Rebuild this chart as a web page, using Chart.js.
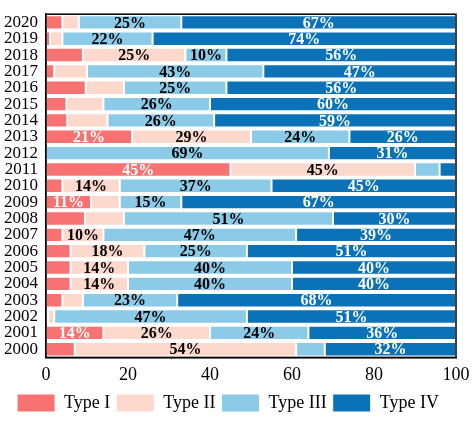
<!DOCTYPE html>
<html>
<head>
<meta charset="utf-8">
<script src="https://cdn.jsdelivr.net/npm/chart.js@4"></script>
<style>
  html, body { margin: 0; padding: 0; background: #fff; }
  #wrap { width: 474px; height: 424px; }
</style>
</head>
<body>
<div id="wrap"><canvas id="c"></canvas></div>
<script>
// ── Data (top row first) ──────────────────────────────────────────────────────
const years = ['2020','2019','2018','2017','2016','2015','2014','2013','2012','2011','2010',
               '2009','2008','2007','2006','2005','2004','2003','2002','2001','2000'];
const type1 = [4, 1, 9, 2, 9.7, 5, 5.2, 21, 0, 45, 4, 11, 9.5, 4, 6, 6, 6, 4, 0.5, 14, 7];
const type2 = [4, 3, 25, 8, 9.3, 9, 9.8, 29, 0, 45, 14, 7, 9.5, 10, 18, 14, 14, 5, 1.5, 26, 54];
const type3 = [25, 22, 10, 43, 25, 26, 26, 24, 69, 6, 37, 15, 51, 47, 25, 40, 40, 23, 47, 24, 7];
const type4 = [67, 74, 56, 47, 56, 60, 59, 26, 31, 4, 45, 67, 30, 39, 51, 40, 40, 68, 51, 36, 32];
const seriesNames = ['Type I', 'Type II', 'Type III', 'Type IV'];
const xTicks = [0, 20, 40, 60, 80, 100];

const COLORS = ['#f87272', '#fcd9cc', '#8ccbe8', '#0c72b8'];
const LABEL_COLORS = ['#ffffff', '#000000', '#000000', '#ffffff'];
const FONT = "'Liberation Serif', 'DejaVu Serif', serif";

// ── Segment labels + frame ────────────────────────────────────────────────────
const segLabels = {
  id: 'segLabels',
  afterDatasetsDraw(chart) {
    const ctx = chart.ctx;
    ctx.save();
    ctx.font = 'bold 16px ' + FONT;
    ctx.textAlign = 'center';
    ctx.textBaseline = 'middle';
    chart.data.datasets.forEach((ds, di) => {
      chart.getDatasetMeta(di).data.forEach((bar, i) => {
        const v = ds.data[i];
        if (v < 9.95) return;
        const { x, base, y } = bar.getProps(['x', 'base', 'y'], true);
        ctx.fillStyle = LABEL_COLORS[di];
        ctx.fillText(Math.round(v) + '%', (x + base) / 2, y + 1);
      });
    });
    const a = chart.chartArea;
    ctx.strokeStyle = '#000';
    ctx.lineWidth = 1.5;
    ctx.strokeRect(a.left, a.top, a.right - a.left, a.bottom - a.top);
    ctx.restore();
  }
};

new Chart(document.getElementById('c'), {
  type: 'bar',
  data: {
    labels: years,
    datasets: [type1, type2, type3, type4].map((d, i) => ({
      label: seriesNames[i],
      data: d,
      backgroundColor: COLORS[i],
      borderColor: '#ffffff',
      borderWidth: 1,
      borderSkipped: false,
      categoryPercentage: 1,
      barPercentage: 0.88
    }))
  },
  options: {
    indexAxis: 'y',
    responsive: true,
    maintainAspectRatio: false,
    animation: false,
    layout: { padding: { top: 4, right: 18, left: 0, bottom: 2 } },
    plugins: {
      legend: {
        position: 'bottom',
        labels: {
          color: '#000',
          font: { family: FONT, size: 18 },
          boxWidth: 38,
          boxHeight: 18,
          padding: 6
        }
      },
      tooltip: { enabled: false }
    },
    scales: {
      x: {
        stacked: true,
        min: 0,
        max: 100,
        afterBuildTicks: s => { s.ticks = xTicks.map(v => ({ value: v })); },
        grid: { display: false, drawTicks: true, tickLength: 5, tickColor: '#000' },
        border: { color: '#000', width: 1.5 },
        ticks: { color: '#000', font: { family: FONT, size: 18 }, padding: 2 }
      },
      y: {
        stacked: true,
        grid: { display: false, tickLength: 4, tickColor: '#000' },
        border: { color: '#000', width: 1.5 },
        ticks: { color: '#000', font: { family: FONT, size: 17 }, padding: 4, autoSkip: false }
      }
    }
  },
  plugins: [segLabels]
});
</script>
</body>
</html>
